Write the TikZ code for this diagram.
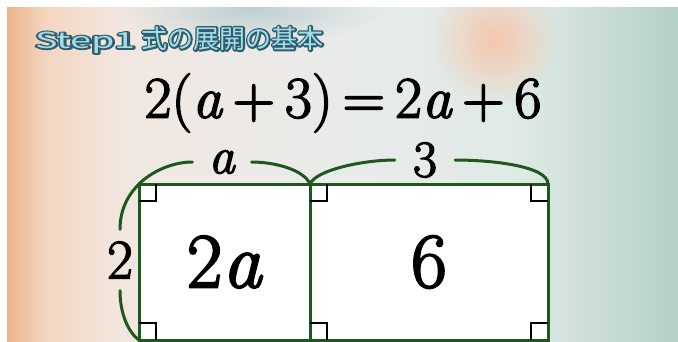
\documentclass[tikz,border=0pt]{standalone}
\usepackage{fontspec}
\usetikzlibrary{positioning, fadings}
\setmainfont{Latin Modern Roman}[FakeBold=2.5]
\newfontfamily\jpfont{Noto Sans CJK JP}
\newcommand{\va}{\textit{a}}
\newcommand{\ringed}[1]{\rlap{\special{pdf:literal direct 1 j 3.4 w 0.18 0.37 0.43 RG 1 Tr}#1\special{pdf:literal direct 0 Tr}}#1}
\definecolor{boxgreen}{RGB}{30,88,30}
\definecolor{titlefill}{RGB}{165,220,232}
\definecolor{bga}{RGB}{236,180,140}
\definecolor{bgb}{RGB}{243,214,192}
\definecolor{bgc}{RGB}{242,231,224}
\definecolor{bgd}{RGB}{233,235,234}
\definecolor{bge}{RGB}{223,234,230}
\definecolor{bgf}{RGB}{180,208,198}
\definecolor{blobpeach}{RGB}{246,198,172}
\definecolor{blobteal}{RGB}{190,208,212}
\tikzfading[name=softblob, inner color=transparent!0, outer color=transparent!100]
\tikzset{
	areabox/.style={draw=boxgreen, fill=white, line width=3pt, outer sep=0pt, inner sep=0pt, minimum height=156pt, font=\fontsize{78}{80}\selectfont},
	brace/.style={boxgreen, line width=3pt, line cap=round},
	sidelabel/.style={inner sep=0pt, font=\fontsize{52}{54}\selectfont},
	rtmark/.style={black, line width=2.5pt}
}

\begin{document}
\begin{tikzpicture}[x=1pt, y=-1pt]
	\useasboundingbox (0,0) rectangle (678,341);
	\fill[white] (0,0) rectangle (678,341);
	\begin{scope}
		\clip (7,7) rectangle (678,341);
		\foreach \xa/\xb/\ca/\cb in {7/45/bga/bgb, 45/120/bgb/bgc, 120/330/bgc/bgd, 330/520/bgd/bge, 520/678/bge/bgf}
		\shade[left color=\ca, right color=\cb] (\xa,7) rectangle (\xb+1,341);
		\fill[blobteal, path fading=softblob] (250,10) ellipse (130 and 35);
		\fill[blobpeach, path fading=softblob] (495,40) circle (65);
	\end{scope}
	\node[anchor=west, inner sep=0pt, text=titlefill, font=\jpfont\fontsize{26}{28}\selectfont] (title) at (35,40) {\ringed{\scalebox{1.45}[0.85]{Step1}}\hspace{6pt}\ringed{式の展開の基本}};
	\node (eqn) at (343,103) {\fontsize{59}{60}\selectfont 2(\va\,+\,3)\,=\,2\va\,+\,6};
	\node[areabox, minimum width=171pt] (lbox) at (224.5,262) {2\va};
	\node[areabox, minimum width=238pt, right=0pt of lbox] (rbox) {6};
	\foreach \b/\c/\dx/\dy in {lbox/north west/1/1, lbox/south west/1/-1, rbox/north west/1/1, rbox/north east/-1/1, rbox/south west/1/-1, rbox/south east/-1/-1}
	\draw[rtmark, shift={(\b.\c)}] (17*\dx,0) -- (17*\dx,17*\dy) -- (0,17*\dy);
	\node[sidelabel, inner xsep=16pt] (alab) at (222,162) {\va};
	\node[sidelabel, inner xsep=18pt] (tlab) at (425,160) {3};
	\node[sidelabel, inner ysep=12pt, font=\fontsize{56}{58}\selectfont] (hlab) at (120,260) {2};
	\draw[brace] (hlab.north) .. controls +(0,-22) and +(-9,9) .. (lbox.north west) .. controls +(11,-11) and +(-22,0) .. (alab.west);
	\draw[brace] (alab.east) .. controls +(24,0) and +(-6,-14) .. (lbox.north east);
	\draw[brace] (rbox.north west) .. controls +(6,-14) and +(-32,0) .. (tlab.west);
	\draw[brace] (tlab.east) .. controls +(36,0) and +(0,-18) .. (rbox.north east);
	\draw[brace] (hlab.south) .. controls +(0,24) and +(-10,-7) .. (lbox.south west);
\end{tikzpicture}
\end{document}
